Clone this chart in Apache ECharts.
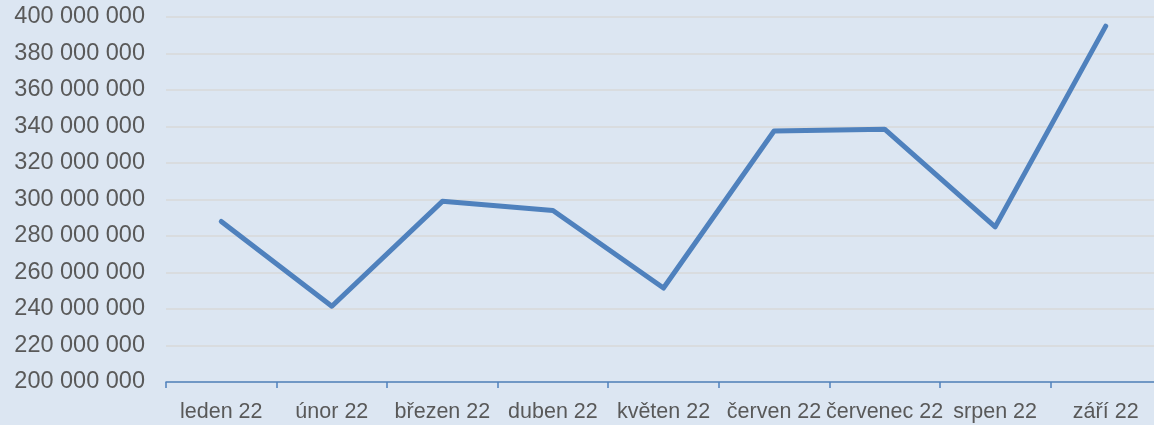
<!DOCTYPE html>
<html><head><meta charset="utf-8">
<script src="https://cdn.jsdelivr.net/npm/echarts@6/dist/echarts.min.js"></script>
<style>html,body{margin:0;padding:0;background:#dce6f2;overflow:hidden}#c{width:1170px;height:425px}</style>
</head><body><div id="c"></div>
<script>
const categories = ['leden 22','únor 22','březen 22','duben 22','květen 22','červen 22','červenec 22','srpen 22','září 22'];
const values = [288000000, 241500000, 299000000, 294000000, 251500000, 337500000, 338500000, 285000000, 395000000];
const yMin = 200000000, yMax = 400000000, yStep = 20000000;

function fmt(v){ return String(Math.round(v)).replace(/\B(?=(\d{3})+(?!\d))/g,' '); }

const chart = echarts.init(document.getElementById('c'), null, {renderer:'canvas'});
chart.setOption({
  backgroundColor:'#dce6f2',
  animation:false,
  grid:{left:166, top:17, width:995, height:365, containLabel:false},
  xAxis:{type:'category', data:categories, boundaryGap:true,
    axisLine:{lineStyle:{color:'#4f81bd', width:1.5}},
    axisTick:{show:true, length:6, lineStyle:{color:'#4f81bd', width:1.5}},
    axisLabel:{color:'#595959', fontFamily:'Liberation Sans', fontSize:21.5, margin:19, interval:0}
  },
  yAxis:{type:'value', min:yMin, max:yMax, interval:yStep,
    axisLine:{show:false}, axisTick:{show:false},
    splitLine:{lineStyle:{color:'#d9d9d9', width:1.5}},
    axisLabel:{color:'#595959', fontFamily:'Liberation Sans', fontSize:23.5, margin:21, formatter:fmt}
  },
  series:[{type:'line', data:values, symbol:'none', lineStyle:{color:'#4f81bd', width:5, cap:'round', join:'round'}}]
});
</script></body></html>
